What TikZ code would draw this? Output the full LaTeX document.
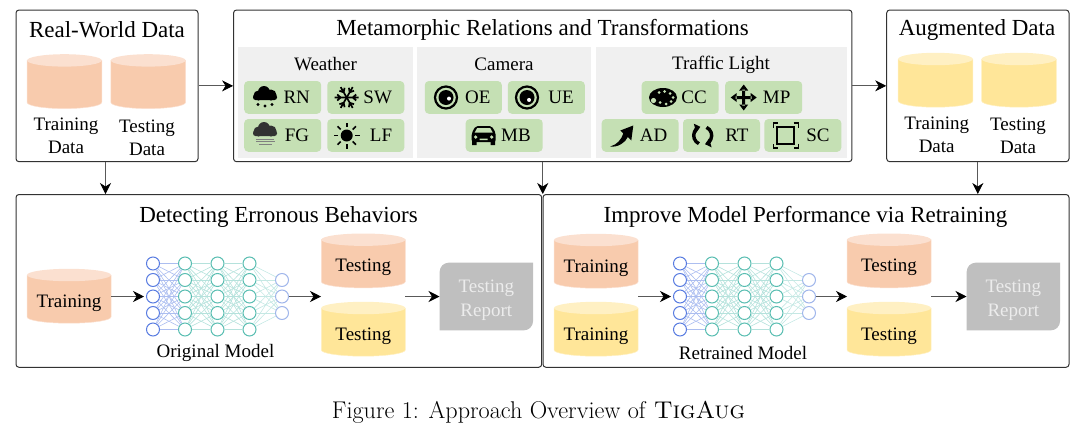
\documentclass[tikz,border=0pt]{standalone}
\usepackage{fontspec}
\newfontfamily\figfont{Liberation Serif}
\usepackage{xcolor}
\definecolor{boxline}{RGB}{50,50,50}
\definecolor{panelgray}{RGB}{240,240,240}
\definecolor{chipgreen}{RGB}{197,224,180}
\definecolor{peach}{RGB}{248,203,173}
\definecolor{peachtop}{RGB}{251,224,208}
\definecolor{sand}{RGB}{255,230,153}
\definecolor{sandtop}{RGB}{255,240,195}
\definecolor{reportgray}{RGB}{191,191,191}
\definecolor{reporttext}{RGB}{236,236,236}
\definecolor{nnblue}{RGB}{90,125,225}
\definecolor{nnteal}{RGB}{90,190,178}
\definecolor{nnpale}{RGB}{160,182,235}
\usepackage{tikz}
\usetikzlibrary{arrows.meta,positioning}

\tikzset{
  pics/cloudshape/.style={code={
    \fill[#1] (-6.5,-1) circle (5) (-1,-4.5) circle (6) (6,-1.5) circle (5.5);
    \fill[#1,rounded corners=2.5] (-12,-2) rectangle (12,3.5);
  }},
  pics/rainicon/.style={code={
    \pic at (0,-1) {cloudshape=black};
    \foreach \dx/\dy in {-7/7,0/8.5,7/7} \fill (\dx,\dy) circle (1.6);
  }},
  pics/fogicon/.style={code={
    \pic at (0,-3) {cloudshape=boxline};
    \draw[gray,line width=.9pt] (-9,3.5) -- (9,3.5) (-9,6) -- (10,6) (-6,8.5) -- (7,8.5);
  }},
  pics/snowicon/.style={code={
    \foreach \a in {0,60,...,300} {
      \draw[line width=1.7pt,rotate=\a] (0,0) -- (12,0) (6,0) -- (9.5,-3) (6,0) -- (9.5,3);
    }
  }},
  pics/sunicon/.style={code={
    \fill (0,0) circle (6);
    \foreach \a in {0,45,...,315} \draw[line width=1.6pt,rotate=\a] (8.5,0) -- (13,0);
  }},
  pics/lensicon/.style={code={
    \draw[line width=2.2pt] (0,0) circle (11);
    \fill (0,0) circle (7.5);
    \fill[white] (#1:3.2) circle (2);
  }},
  pics/caricon/.style={code={
    \fill[rounded corners=2] (-12,-2) -- (-8,-9) -- (8,-9) -- (12,-2) -- (12,7) -- (-12,7) -- cycle;
    \fill (-11.5,6) rectangle (-7,10) (7,6) rectangle (11.5,10);
    \fill[chipgreen] (-9,-2.5) -- (-6.5,-7) -- (6.5,-7) -- (9,-2.5) -- cycle;
    \fill[chipgreen] (-8,2) circle (1.8) (8,2) circle (1.8) (-4,3.5) rectangle (4,5);
  }},
  pics/paletteicon/.style={code={
    \fill (0,0) ellipse (14 and 9.5);
    \fill[chipgreen] (-9.5,3) circle (2.6);
    \foreach \px/\py in {-4/-5,1.5/-6,7/-4,10/0,8/4,3/6.5,-3/5} \fill[chipgreen] (\px,\py) circle (1.5);
  }},
  pics/moveicon/.style={code={
    \foreach \a in {0,90,180,270} {
      \fill[rotate=\a] (0,-1.5) rectangle (8,1.5) (7,-4.5) -- (13,0) -- (7,4.5) -- cycle;
    }
  }},
  pics/swooshicon/.style={code={
    \fill (-12,11) .. controls (-5,9) and (-1,4) .. (1,-2) -- (-2,-5) -- (11,-10) -- (9,5) -- (5.5,1.5)
      .. controls (3,7) and (-4,12) .. (-12,11) -- cycle;
  }},
  pics/rotateicon/.style={code={
    \draw[line width=3.4pt,-{Triangle[length=5.5pt,width=9pt]}] (115:9) arc (115:255:9);
    \draw[line width=3.4pt,-{Triangle[length=5.5pt,width=9pt]}] (295:9) arc (295:435:9);
  }},
  pics/scaleicon/.style={code={
    \draw[line width=1.8pt] (-8.5,-8.5) rectangle (8.5,8.5);
    \draw[line width=1.4pt] (-12.5,-8) -- (-12.5,-12.5) -- (-8,-12.5) (8,-12.5) -- (12.5,-12.5) -- (12.5,-8)
      (12.5,8) -- (12.5,12.5) -- (8,12.5) (-8,12.5) -- (-12.5,12.5) -- (-12.5,8);
  }},
}

% name, x, y, width, body colour, top colour, text
\newcommand{\dbstore}[7]{
  \fill[#5,draw=#6,line width=.5pt] ({#2-#4/2},#3-21) -- ({#2-#4/2},#3+21)
    arc[start angle=180,end angle=0,x radius=#4/2,y radius=6.2] -- ({#2+#4/2},#3-21) -- cycle;
  \fill[#6] (#2,#3-21) ellipse ({#4/2} and 6.2);
  \node[dbnode,minimum width=#4*1pt] (#1) at (#2,#3) {};
  \node[bodytxt] (#1T) at (#2,#3+7) {#7};
}

\begin{document}
\begin{tikzpicture}[
  x=1pt,y=-1pt,
  framebox/.style={rectangle,draw=boxline,line width=1pt,rounded corners=3pt},
  panel/.style={rectangle,fill=panelgray},
  chip/.style={rectangle,fill=chipgreen,rounded corners=4pt,minimum width=77pt,minimum height=32.7pt},
  dbnode/.style={rectangle,minimum height=54.4pt,inner sep=0pt},
  titletxt/.style={font=\figfont\fontsize{23}{26}\selectfont,inner sep=0pt},
  bodytxt/.style={font=\figfont\fontsize{19}{23}\selectfont,align=center,inner sep=0pt},
  report/.style={rectangle,minimum width=93.3pt,minimum height=67.6pt,inner sep=0pt,
                 text=reporttext,font=\figfont\fontsize{19}{24}\selectfont,align=center},
  neuron/.style={circle,draw=#1,fill=white,line width=1pt,minimum size=13pt,inner sep=0pt},
  arrow/.style={-{Stealth[length=11pt,width=11pt,inset=3.5pt,color=black]},draw=black!65,line width=.8pt},
]
\useasboundingbox (0,0) rectangle (1080,429);

\node[framebox,minimum width=182pt,minimum height=151.7pt] (real) at (107,85.85) {};
\node[framebox,minimum width=618.4pt,minimum height=151.7pt] (meta) at (542.75,85.85) {};
\node[framebox,minimum width=182.3pt,minimum height=151.7pt] (aug) at (977.85,85.85) {};
\node[framebox,minimum width=525.7pt,minimum height=172.8pt] (detect) at (278.85,280.9) {};
\node[framebox,minimum width=526pt,minimum height=172.8pt] (improve) at (806,280.9) {};

\node[titletxt] (realT) at (107,30) {Real-World Data};
\node[titletxt] (metaT) at (542.6,30) {Metamorphic Relations and Transformations};
\node[titletxt] (augT) at (977,30) {Augmented Data};
\node[titletxt] (detectT) at (278.5,216.5) {Detecting Erronous Behaviors};
\node[titletxt] (improveT) at (805.5,216.5) {Improve Model Performance via Retraining};

\node[panel,minimum width=174.7pt,minimum height=110.5pt] (weather) at (325.35,102.25) {};
\node[panel,minimum width=174.3pt,minimum height=110.5pt] (camera) at (503.85,102.25) {};
\node[panel,minimum width=250.7pt,minimum height=110.5pt] (light) at (721.35,102.25) {};
\node[bodytxt] (weatherT) at (325.5,64.5) {Weather};
\node[bodytxt] (cameraT) at (504,64.5) {Camera};
\node[bodytxt] (lightT) at (721,64.5) {Traffic Light};

\foreach \nm/\cx/\cy/\lx/\txt in {
  rn/282.7/97.4/296.7/RN, sw/365.8/97.4/377.7/SW, fg/282.7/135.4/297/FG, lf/365.8/135.4/381/LF,
  oe/463.3/97.4/477.7/OE, ue/546.3/97.4/561/UE, mb/504.2/135.4/516/MB,
  cc/680.2/97.4/694/CC, mp/763.7/97.4/776.7/MP,
  ad/640.2/135.4/653.7/AD, rt/721.5/135.4/737/RT, sc/802.8/135.4/818/SC} {
  \node[chip] (\nm) at (\cx,\cy) {};
  \node[bodytxt] (\nm T) at (\lx,\cy) {\txt};
}
\pic at (265,97.5) {rainicon};
\pic at (346.7,97.5) {snowicon};
\pic at (265,135.5) {fogicon};
\pic at (346.7,135.5) {sunicon};
\pic at (446,97.5) {lensicon=20};
\pic at (527,97.5) {lensicon=50};
\pic at (483.7,135) {caricon};
\pic at (663,97.5) {paletteicon};
\pic at (743.7,97.5) {moveicon};
\pic at (622.3,135.5) {swooshicon};
\pic at (702.7,135.5) {rotateicon};
\pic at (785.7,135.5) {scaleicon};

% data stores on the top row
\dbstore{realA}{64.4}{81.4}{74.7}{peach}{peachtop}{}
\dbstore{realB}{148.2}{81.4}{74.7}{peach}{peachtop}{}
\node[bodytxt] (realAT) at (66,135.5) {Training\\Data};
\node[bodytxt] (realBT) at (147,137.5) {Testing\\Data};
\dbstore{augA}{935.5}{80}{74.7}{sand}{sandtop}{}
\dbstore{augB}{1019}{80}{74.7}{sand}{sandtop}{}
\node[bodytxt] (augAT) at (936.7,135) {Training\\Data};
\node[bodytxt] (augBT) at (1018,136) {Testing\\Data};

% data stores on the bottom row
\dbstore{trainA}{69}{296}{84}{peach}{peachtop}{Training}
\dbstore{testA}{363.3}{260.7}{84}{peach}{peachtop}{Testing}
\dbstore{testB}{363.3}{329}{84}{sand}{sandtop}{Testing}
\dbstore{trainB}{596}{261}{84}{peach}{peachtop}{Training}
\dbstore{trainC}{596}{329}{84}{sand}{sandtop}{Training}
\dbstore{testC}{889}{260.7}{84}{peach}{peachtop}{Testing}
\dbstore{testD}{889}{329}{84}{sand}{sandtop}{Testing}

% both networks
\foreach \pf/\dx in {a/0,b/527} {
  \foreach \l/\lx/\first/\last/\col in {1/153/1/5/nnblue,2/185/1/5/nnteal,3/217.5/1/5/nnteal,4/249.5/1/5/nnteal,5/282/2/4/nnpale} {
    \foreach \i in {\first,...,\last} {
      \node[neuron=\col] (\pf-\l-\i) at ({\lx+\dx},{296.5+(\i-3)*16.5}) {};
    }
  }
  \foreach \i in {1,...,5} {
    \foreach \j in {1,...,5} {
      \draw[nnblue!50,line width=.6pt] (\pf-1-\i) -- (\pf-2-\j);
      \draw[nnteal!45,line width=.6pt] (\pf-2-\i) -- (\pf-3-\j);
      \draw[nnteal!45,line width=.6pt] (\pf-3-\i) -- (\pf-4-\j);
    }
    \foreach \j in {2,3,4} {
      \draw[nnteal!35,line width=.6pt] (\pf-4-\i) -- (\pf-5-\j);
    }
  }
}
\node[bodytxt] (modelA) at (215.5,353) {Original Model};
\node[bodytxt] (modelB) at (743,353) {Retrained Model};

% reports
\foreach \nm/\dx in {repA/0,repB/527} {
  \fill[reportgray] (439.7+\dx,330.3) [rounded corners=9pt] -- (439.7+\dx,262.7) [sharp corners] -- (533+\dx,262.7)
    [rounded corners=9pt] -- (533+\dx,330.3) [sharp corners] -- cycle;
  \node[report] (\nm) at (486.35+\dx,296.5) {};
  \node[report] (\nm T) at (486.35+\dx,300.5) {Testing\\Report};
}

\coordinate (splitA) at (321,296.5);
\coordinate (splitB) at (847,296.5);
\coordinate (joinA) at (405.3,296.5);
\coordinate (joinB) at (931,296.5);
\coordinate (joinC) at (638,296.5);

\draw[arrow] (real) -- (meta);
\draw[arrow] (meta) -- (aug);
\draw[arrow] (real.south -| 105.5,0) -- (detect.north -| 105.5,0);
\draw[arrow] (meta.south) -- (meta.south |- detect.north);
\draw[arrow] (aug.south) -- (aug.south |- improve.north);
\draw[arrow,shorten >=2pt] (trainA.east |- a-1-3) -- (a-1-3);
\draw[arrow] (a-5-3) -- (splitA);
\draw[arrow] (joinA) -- (repA);
\draw[arrow,shorten >=2pt] (joinC) -- (b-1-3);
\draw[arrow] (b-5-3) -- (splitB);
\draw[arrow] (joinB) -- (repB);

\node[font=\fontsize{24.2}{28}\selectfont,inner sep=0pt] (caption) at (538.5,412.5) {Figure 1: Approach Overview of \textsc{TigAug}};
\end{tikzpicture}
\end{document}
